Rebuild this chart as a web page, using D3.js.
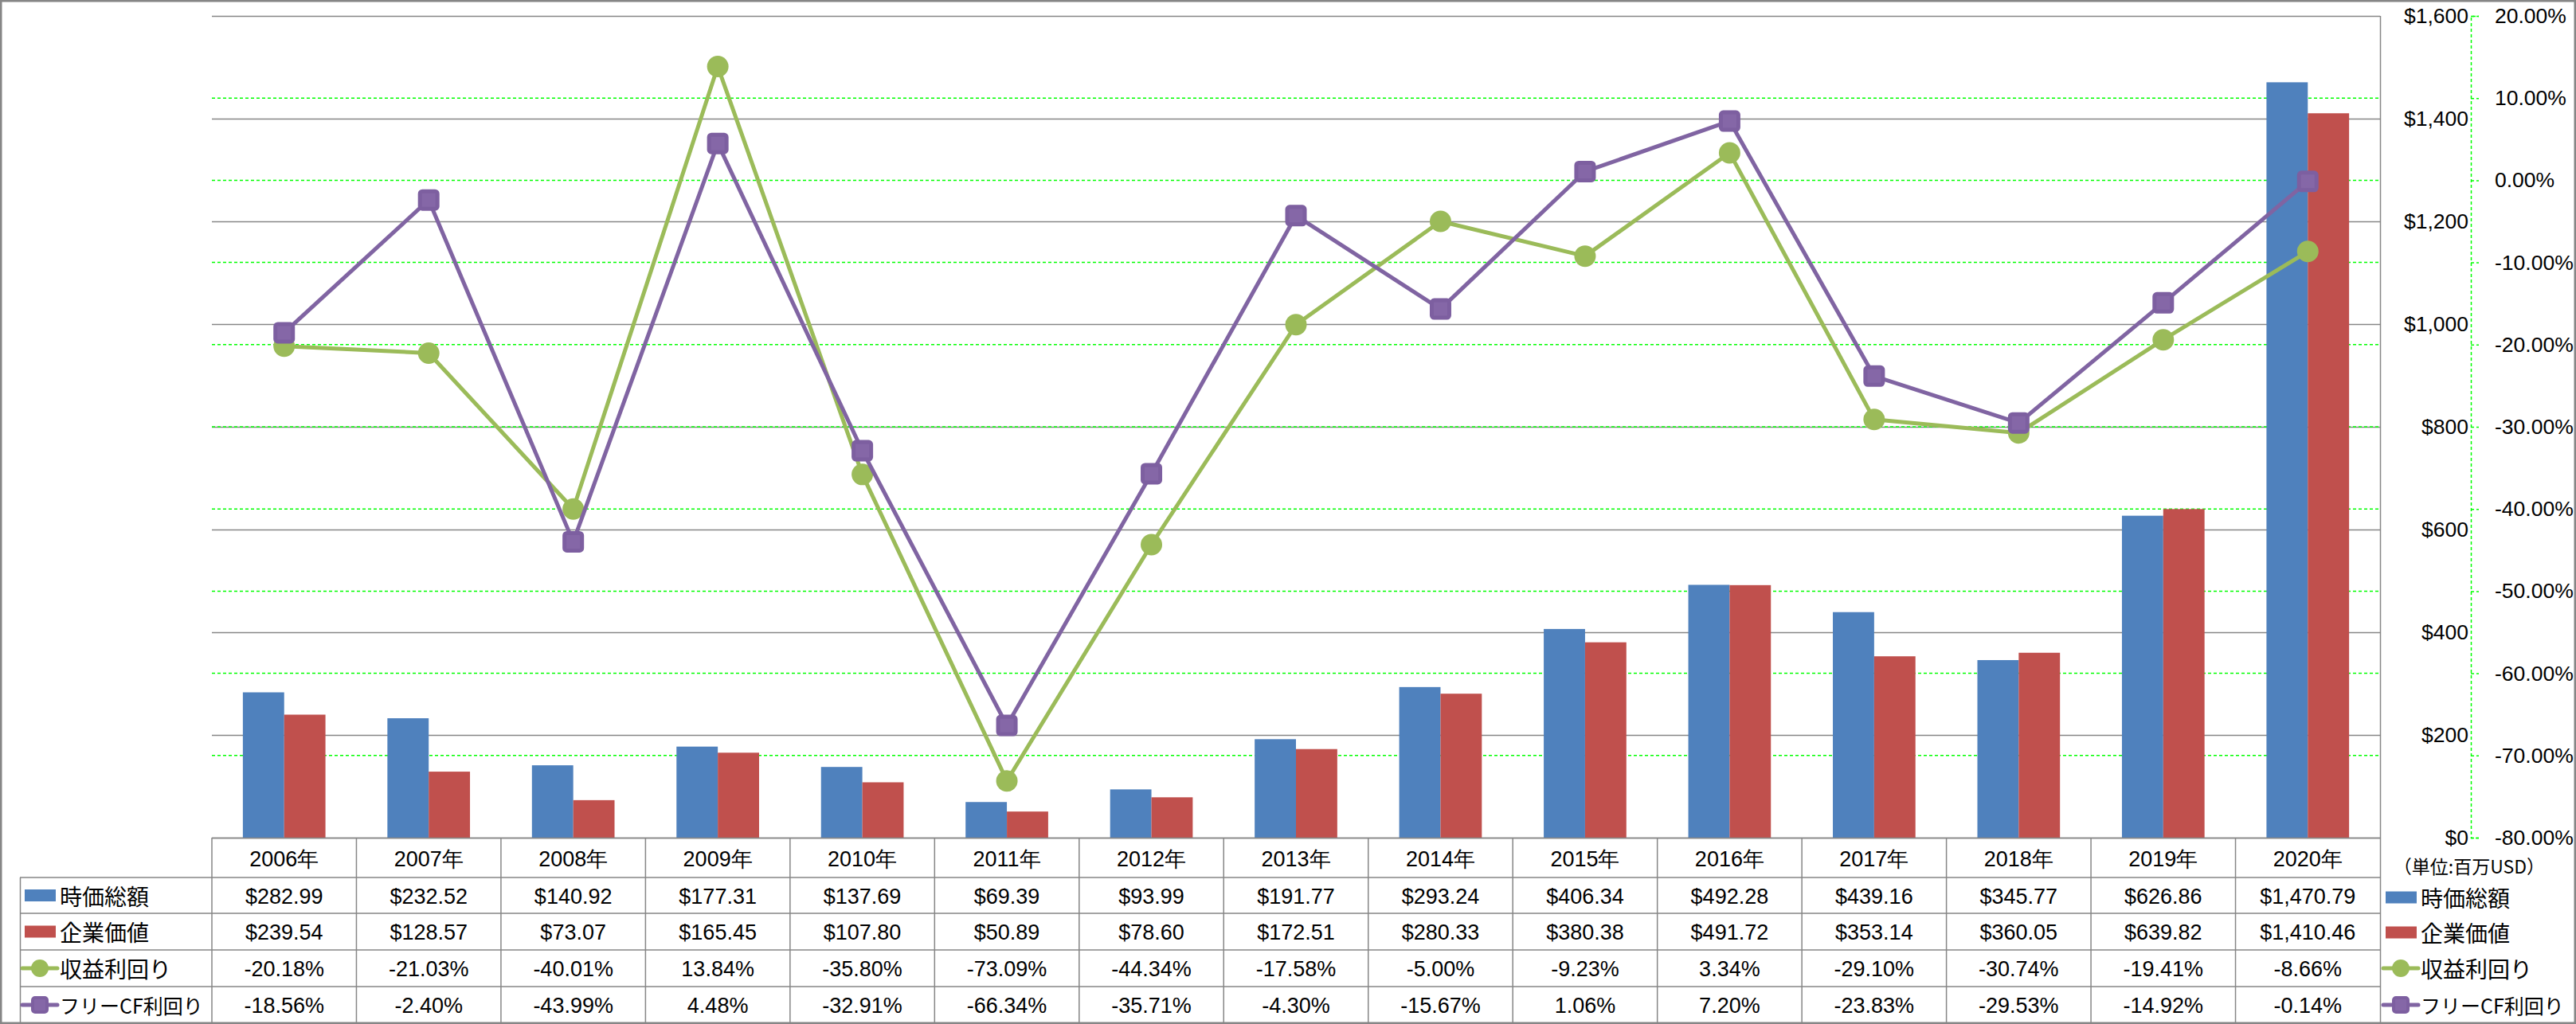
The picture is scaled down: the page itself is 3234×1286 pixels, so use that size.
<!DOCTYPE html>
<html>
<head>
<meta charset="utf-8">
<script src="https://cdn.jsdelivr.net/npm/d3@7"></script>
<style>
  html, body { margin: 0; padding: 0; background: #fff; }
  text { font-family: "Liberation Sans", Arial, sans-serif; fill: #000; }
  .jp { font-family: "Noto Sans CJK JP", sans-serif; }
</style>
</head>
<body>
<div id="chart"></div>
<script>
// values
const years = ["2006年", "2007年", "2008年", "2009年", "2010年", "2011年", "2012年", "2013年",
  "2014年", "2015年", "2016年", "2017年", "2018年", "2019年", "2020年"];
const marketCap = [282.99, 232.52, 140.92, 177.31, 137.69, 69.39, 93.99, 191.77,
  293.24, 406.34, 492.28, 439.16, 345.77, 626.86, 1470.79];
const enterpriseValue = [239.54, 128.57, 73.07, 165.45, 107.80, 50.89, 78.60, 172.51,
  280.33, 380.38, 491.72, 353.14, 360.05, 639.82, 1410.46];
const earningsYield = [-20.18, -21.03, -40.01, 13.84, -35.80, -73.09, -44.34, -17.58,
  -5.00, -9.23, 3.34, -29.10, -30.74, -19.41, -8.66];
const fcfYield = [-18.56, -2.40, -43.99, 4.48, -32.91, -66.34, -35.71, -4.30,
  -15.67, 1.06, 7.20, -23.83, -29.53, -14.92, -0.14];
const dollarTicks = [0, 200, 400, 600, 800, 1000, 1200, 1400, 1600];
const percentTicks = [-80, -70, -60, -50, -40, -30, -20, -10, 0, 10, 20];
const seriesNames = ["時価総額", "企業価値", "収益利回り", "フリーCF利回り"];
const unitLabel = "（単位:百万USD）";

const colors = {
  mcap: "#4F81BD",
  ev: "#C0504D",
  earn: "#9BBB59",
  fcf: "#8064A2",
  grid: "#868686",
  green: "#00FF00"
};

const width = 3234, height = 1286;
const plot = { left: 266, right: 2988, top: 20, bottom: 1052 };
const headerBottom = 1102;
const rowEdges = [1102, 1147, 1193, 1239, 1285];

// plain "-" instead of the unicode minus d3 uses by default
const locale = d3.formatLocale({
  decimal: ".", thousands: ",", grouping: [3], currency: ["$", ""], minus: "-"
});
const fmtMoney = locale.format("$,.2f");
const fmtDollarTick = locale.format("$,.0f");
const fmtPct = v => locale.format(".2f")(v) + "%";

const svg = d3.select("#chart").append("svg")
  .attr("width", width)
  .attr("height", height)
  .attr("viewBox", `0 0 ${width} ${height}`);

const x = d3.scaleBand().domain(years).range([plot.left, plot.right]).padding(0);
const bw = x.bandwidth();
// gap width 150% like Excel
const inner = d3.scaleBand().domain(["mcap", "ev"])
  .range([bw * 0.75 / 3.5, bw - bw * 0.75 / 3.5]);
const yL = d3.scaleLinear().domain([0, 1600]).range([plot.bottom, plot.top]);
const yR = d3.scaleLinear().domain([-80, 20]).range([plot.bottom, plot.top]);

// gridlines
svg.append("g")
  .selectAll("line")
  .data(dollarTicks)
  .join("line")
  .attr("x1", plot.left).attr("x2", plot.right)
  .attr("y1", d => yL(d) + 0.5).attr("y2", d => yL(d) + 0.5)
  .attr("stroke", colors.grid)
  .attr("stroke-width", 1.5);

svg.append("g")
  .selectAll("line")
  .data(percentTicks.filter(d => d > -80 && d < 20))
  .join("line")
  .attr("x1", plot.left).attr("x2", plot.right)
  .attr("y1", d => yR(d)).attr("y2", d => yR(d))
  .attr("stroke", colors.green)
  .attr("stroke-width", 1.5)
  .attr("stroke-dasharray", "4,3");

// bars
const barData = years.map((y, i) => ({ year: y, mcap: marketCap[i], ev: enterpriseValue[i] }));
svg.append("g")
  .selectAll("g")
  .data(barData)
  .join("g")
  .attr("transform", d => `translate(${x(d.year)},0)`)
  .selectAll("rect")
  .data(d => ["mcap", "ev"].map(k => ({ key: k, value: d[k] })))
  .join("rect")
  .attr("x", d => inner(d.key))
  .attr("width", inner.bandwidth())
  .attr("y", d => yL(d.value))
  .attr("height", d => yL(0) - yL(d.value))
  .attr("fill", d => colors[d.key]);

// right edge line (primary axis), runs down through the table
svg.append("line")
  .attr("x1", plot.right + 0.5).attr("x2", plot.right + 0.5)
  .attr("y1", plot.top).attr("y2", rowEdges[4])
  .attr("stroke", colors.grid).attr("stroke-width", 1.5);

// lines
const cx = i => x(years[i]) + bw / 2;
const line = d3.line().x((d, i) => cx(i)).y(d => yR(d));

svg.append("path")
  .datum(earningsYield)
  .attr("d", line)
  .attr("fill", "none")
  .attr("stroke", colors.earn)
  .attr("stroke-width", 5)
  .attr("stroke-linejoin", "round");
svg.append("g")
  .selectAll("circle")
  .data(earningsYield)
  .join("circle")
  .attr("cx", (d, i) => cx(i))
  .attr("cy", d => yR(d))
  .attr("r", 13.5)
  .attr("fill", colors.earn);

svg.append("path")
  .datum(fcfYield)
  .attr("d", line)
  .attr("fill", "none")
  .attr("stroke", colors.fcf)
  .attr("stroke-width", 5)
  .attr("stroke-linejoin", "round");
svg.append("g")
  .selectAll("rect")
  .data(fcfYield)
  .join("rect")
  .attr("x", (d, i) => cx(i) - 11)
  .attr("y", d => yR(d) - 11)
  .attr("width", 22).attr("height", 22)
  .attr("rx", 3)
  .attr("fill", "#8567A7")
  .attr("stroke", "#7D5FA0")
  .attr("stroke-width", 5)
  .attr("stroke-linejoin", "round");

// $ axis labels (right of plot, right aligned)
const axisL = svg.append("g")
  .attr("transform", "translate(3102,0)")
  .call(d3.axisLeft(yL).tickValues(dollarTicks).tickFormat(fmtDollarTick)
    .tickSize(0).tickPadding(3));
axisL.select(".domain").remove();
axisL.selectAll("text")
  .attr("font-size", 26.5)
  .attr("font-family", "Liberation Sans, Arial, sans-serif")
  .attr("fill", "#000");

// % axis, green dashed
const axisR = svg.append("g")
  .attr("transform", "translate(3102,0)")
  .call(d3.axisRight(yR).tickValues(percentTicks).tickFormat(fmtPct)
    .tickSize(10).tickSizeOuter(10).tickPadding(20));
axisR.select(".domain")
  .attr("stroke", colors.green).attr("stroke-width", 1.5).attr("stroke-dasharray", "4,3");
axisR.selectAll(".tick line")
  .attr("stroke", colors.green).attr("stroke-width", 1.5).attr("stroke-dasharray", "4,3");
axisR.selectAll("text")
  .attr("font-size", 26.5)
  .attr("font-family", "Liberation Sans, Arial, sans-serif")
  .attr("fill", d => d < 0 ? "#FF0000" : "#000");

// data table
const table = svg.append("g");
const border = { stroke: colors.grid, width: 1.5 };

// horizontal lines
table.append("line")
  .attr("x1", plot.left).attr("x2", plot.right)
  .attr("y1", plot.bottom + 0.5).attr("y2", plot.bottom + 0.5)
  .attr("stroke", border.stroke).attr("stroke-width", border.width);
table.selectAll("line.row")
  .data(rowEdges)
  .join("line")
  .attr("class", "row")
  .attr("x1", 25).attr("x2", plot.right)
  .attr("y1", d => d).attr("y2", d => d)
  .attr("stroke", border.stroke).attr("stroke-width", border.width);

// vertical lines
table.append("line")
  .attr("x1", 25.5).attr("x2", 25.5)
  .attr("y1", headerBottom).attr("y2", rowEdges[4])
  .attr("stroke", border.stroke).attr("stroke-width", border.width);
table.selectAll("line.col")
  .data(years)
  .join("line")
  .attr("class", "col")
  .attr("x1", d => x(d)).attr("x2", d => x(d))
  .attr("y1", plot.bottom).attr("y2", rowEdges[4])
  .attr("stroke", border.stroke).attr("stroke-width", border.width);

// header
table.selectAll("text.year")
  .data(years)
  .join("text")
  .attr("class", "year")
  .attr("x", d => x(d) + bw / 2)
  .attr("y", (plot.bottom + headerBottom) / 2 + 2)
  .attr("text-anchor", "middle")
  .attr("dominant-baseline", "central")
  .attr("font-size", 27)
  .text(d => d);

// value rows
const rows = [
  { values: marketCap, fmt: fmtMoney },
  { values: enterpriseValue, fmt: fmtMoney },
  { values: earningsYield, fmt: fmtPct },
  { values: fcfYield, fmt: fmtPct }
];
rows.forEach((row, r) => {
  const yMid = (rowEdges[r] + rowEdges[r + 1]) / 2 + 1;
  table.append("g")
    .selectAll("text")
    .data(row.values)
    .join("text")
    .attr("x", (d, i) => cx(i))
    .attr("y", yMid)
    .attr("text-anchor", "middle")
    .attr("dominant-baseline", "central")
    .attr("font-size", 27)
    .text(d => row.fmt(d));
});

// legend key (used in the table and on the right)
function drawKey(g, k, x0, yMid) {
  if (k < 2) {
    g.append("rect")
      .attr("x", x0).attr("y", yMid - 7.5)
      .attr("width", 39).attr("height", 15)
      .attr("fill", k === 0 ? colors.mcap : colors.ev);
  } else {
    const c = k === 2 ? colors.earn : colors.fcf;
    g.append("line")
      .attr("x1", x0 - 3).attr("x2", x0 + 41)
      .attr("y1", yMid).attr("y2", yMid)
      .attr("stroke", c).attr("stroke-width", 5).attr("stroke-linecap", "round");
    if (k === 2) {
      g.append("circle").attr("cx", x0 + 19).attr("cy", yMid).attr("r", 11).attr("fill", c);
    } else {
      g.append("rect")
        .attr("x", x0 + 10).attr("y", yMid - 9)
        .attr("width", 18).attr("height", 18).attr("rx", 3)
        .attr("fill", "#8567A7").attr("stroke", "#7D5FA0").attr("stroke-width", 4);
    }
  }
  g.append("text")
    .attr("class", "jp")
    .attr("x", x0 + 44)
    .attr("y", yMid)
    .attr("dominant-baseline", "central")
    .attr("font-size", k === 3 ? 25 : 28)
    .text(seriesNames[k]);
}

seriesNames.forEach((name, k) => {
  drawKey(table, k, 31, (rowEdges[k] + rowEdges[k + 1]) / 2);
});

// right legend
svg.append("text")
  .attr("class", "jp")
  .attr("x", 3100)
  .attr("y", 1087)
  .attr("text-anchor", "middle")
  .attr("dominant-baseline", "central")
  .attr("font-size", 23)
  .text(unitLabel);
const legendY = [1127, 1171, 1216, 1262];
const legend = svg.append("g");
seriesNames.forEach((name, k) => {
  drawKey(legend, k, 2995, legendY[k]);
});

// outer border
svg.append("rect")
  .attr("x", 1).attr("y", 1)
  .attr("width", width - 2).attr("height", height - 2)
  .attr("fill", "none")
  .attr("stroke", colors.grid)
  .attr("stroke-width", 3);
</script>
</body>
</html>
